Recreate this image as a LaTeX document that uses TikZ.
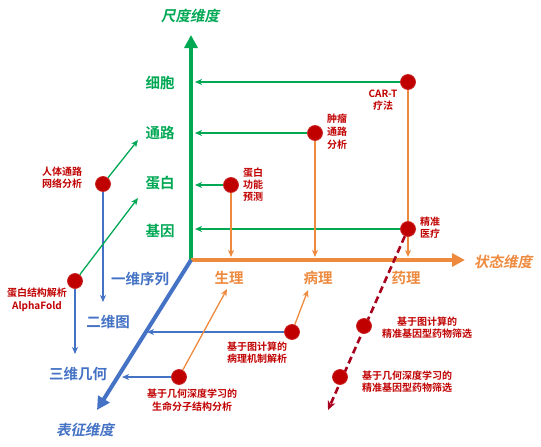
\documentclass[tikz,border=0pt]{standalone}
\usepackage{fontspec}
\setmainfont{Noto Sans CJK SC}[BoldFont={Noto Sans CJK SC Bold}]
\newfontfamily\slfont{Noto Sans CJK SC Bold}[FakeSlant=0.2]
\usetikzlibrary{arrows.meta}
\definecolor{ggreen}{RGB}{0,168,84}
\definecolor{gorange}{RGB}{238,138,62}
\definecolor{gblue}{RGB}{68,114,196}
\definecolor{dred}{RGB}{192,0,0}
\definecolor{dashred}{RGB}{168,0,28}
\pgfdeclarelayer{bg}
\pgfsetlayers{bg,main}
\begin{document}
\begin{tikzpicture}[x=1pt,y=-1pt,
  dot/.style={circle,fill=dred,draw=dred!85!white,line width=0.8pt,minimum size=15pt,inner sep=0pt},
  rlab/.style={text=dred,font=\bfseries\fontsize{10}{12}\selectfont,align=center,inner sep=0pt},
  glab/.style={text=ggreen,font=\bfseries\fontsize{14.5}{16}\selectfont,inner sep=0pt},
  olab/.style={text=gorange,font=\bfseries\fontsize{14.5}{16}\selectfont,inner sep=0pt},
  blab/.style={text=gblue,font=\bfseries\fontsize{14.5}{16}\selectfont,inner sep=0pt},
  axtitle/.style={font=\slfont\fontsize{14.5}{16}\selectfont,inner sep=0pt},
  axisline/.style={line width=4pt,-{Triangle[length=13pt,width=13pt]}},
  conn/.style={line width=1.3pt,-{Stealth[length=7pt,width=6pt,inset=2pt]}},
  plain/.style={line width=1.3pt},
]
\useasboundingbox (0,0) rectangle (541,447);

% axis coordinates
\coordinate (O) at (191,260);
\coordinate (Ytip) at (191,35);
\coordinate (Xtip) at (465,260);
\coordinate (Ztip) at (97,410);
\coordinate (gx) at (195,0);
\coordinate (oy) at (0,257);

% axis titles
\node[axtitle,text=ggreen] (ttY) at (190,16) {尺度维度};
\node[axtitle,text=gorange] (ttX) at (503,262) {状态维度};
\node[axtitle,text=gblue] (ttZ) at (85,430) {表征维度};

% scale labels
\node[glab] (xb) at (160,83) {细胞};
\node[glab] (tl) at (160,133) {通路};
\node[glab] (db0) at (160,183) {蛋白};
\node[glab] (jy) at (160,231) {基因};

% state labels
\node[olab] (sl) at (229,278) {生理};
\node[olab] (bl0) at (318,278) {病理};
\node[olab] (yl) at (406,278) {药理};

% representation labels
\node[blab] (y1) at (140,279) {一维序列};
\node[blab] (e2) at (108,322) {二维图};
\node[blab] (s3) at (78,374) {三维几何};

% dots
\node[dot] (cart) at (408,82) {};
\node[dot] (zl) at (315,133) {};
\node[dot] (db) at (231,185) {};
\node[dot] (jz) at (408,229) {};
\node[dot] (rt) at (103,184) {};
\node[dot] (af) at (75,281) {};
\node[dot] (bl) at (292,332) {};
\node[dot] (sm) at (179,377) {};
\node[dot] (jx1) at (364,326) {};
\node[dot] (jx2) at (340,377) {};

% dot labels
\node[rlab] (cartL) at (383,100) {CAR-T\\疗法};
\node[rlab,font=\bfseries\fontsize{10}{13}\selectfont] (zlL) at (337,132) {肿瘤\\通路\\分析};
\node[rlab] (dbL) at (253,185) {蛋白\\功能\\预测};
\node[rlab] (jzL) at (430,228) {精准\\医疗};
\node[rlab] (rtL) at (62,178) {人体通路\\网络分析};
\node[rlab,font=\bfseries\fontsize{10}{13}\selectfont] (afL) at (37,300) {蛋白结构解析\\AlphaFold};
\node[rlab] (blL) at (257,353) {基于图计算的\\病理机制解析};
\node[rlab,font=\bfseries\fontsize{10}{13}\selectfont] (smL) at (192,400) {基于几何深度学习的\\生命分子结构分析};
\node[rlab] (jx1L) at (427,328) {基于图计算的\\精准基因型药物筛选};
\node[rlab,align=left,anchor=west] (jx2L) at (362,382) {基于几何深度学习的\\精准基因型药物筛选};

% connector end points
\coordinate (rtEnd) at (103,302);
\coordinate (afEnd) at (75,354);
\coordinate (g1) at (138,140);
\coordinate (g2) at (138,198);
\coordinate (b1) at (147,332);
\coordinate (b2) at (122,377);
\coordinate (o1) at (227,289);
\coordinate (o2) at (308,290);
\coordinate (rd) at (328,410);

\begin{pgfonlayer}{bg}
  % green horizontal arrows
  \draw[conn,ggreen] (cart) -- (cart -| gx);
  \draw[conn,ggreen] (zl) -- (zl -| gx);
  \draw[conn,ggreen] (db) -- (db -| gx);
  \draw[conn,ggreen] (jz) -- (jz -| gx);
  % orange vertical arrows
  \draw[plain,gorange] (cart) -- (jz);
  \draw[conn,gorange] (jz) -- (jz |- oy);
  \draw[conn,gorange] (zl) -- (zl |- oy);
  \draw[conn,gorange] (db) -- (db |- oy);
  % blue vertical arrows
  \draw[conn,gblue] (rt) -- (rtEnd);
  \draw[conn,gblue] (af) -- (afEnd);
  % green diagonal arrows
  \draw[conn,ggreen] (rt) -- (g1);
  \draw[conn,ggreen] (af) -- (g2);
  % blue horizontal arrows
  \draw[conn,gblue] (bl) -- (b1);
  \draw[conn,gblue] (sm) -- (b2);
  % orange diagonal arrows
  \draw[conn,gorange] (sm) -- (o1);
  \draw[conn,gorange] (bl) -- (o2);
  % axes
  \draw[axisline,ggreen] (O) -- (Ytip);
  \draw[axisline,gorange] (O) -- (Xtip);
  \draw[axisline,gblue] (O) -- (Ztip);
  % red dashed line
  \draw[dashred,line width=2.6pt,dash pattern=on 7pt off 4pt,-{Stealth[length=9pt,width=8pt]}] (jz) -- (rd);
\end{pgfonlayer}
\end{tikzpicture}
\end{document}
